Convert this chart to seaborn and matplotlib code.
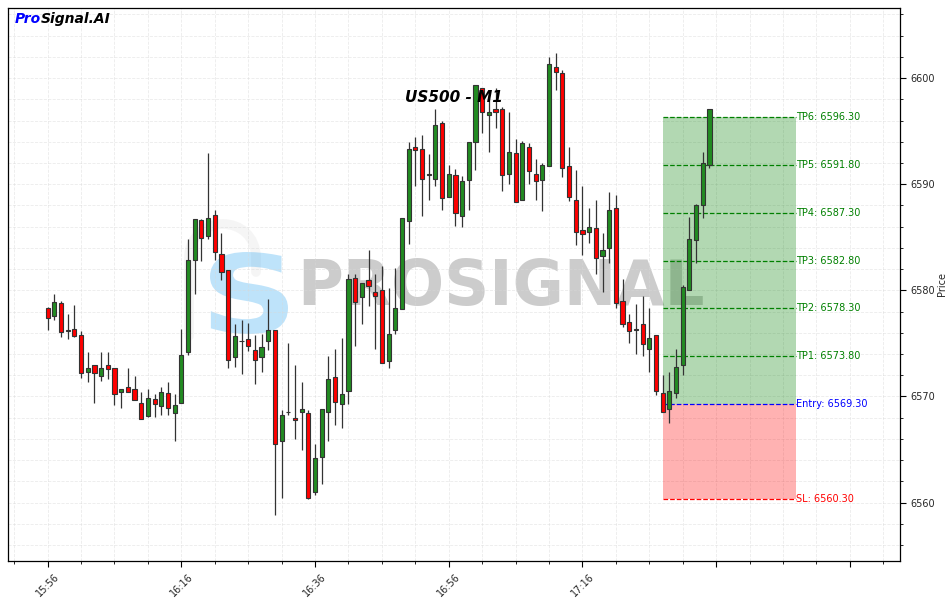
import numpy as np
import pandas as pd
import matplotlib
matplotlib.use("Agg")
import matplotlib.pyplot as plt
import seaborn as sns
from matplotlib.ticker import MultipleLocator, FuncFormatter
from matplotlib.textpath import TextPath
from matplotlib.patches import PathPatch
from matplotlib.path import Path
from matplotlib.font_manager import FontProperties
from matplotlib.transforms import Affine2D, IdentityTransform

# ---------------- data ----------------
symbol = "US500 - M1"
start_time = "15:56"
opens = [6578.3, 6577.6, 6578.8, 6576.3, 6576.4, 6575.8, 6572.3, 6573.0, 6571.9, 6573.0,
         6572.7, 6570.4, 6570.9, 6570.7, 6569.4, 6568.2, 6569.8, 6569.1, 6570.3, 6568.4,
         6569.4, 6574.2, 6582.9, 6586.6, 6585.1, 6587.1, 6583.4, 6581.9, 6573.7, 6575.2,
         6575.4, 6574.4, 6573.7, 6575.2, 6576.3, 6565.8, 6568.5, 6568.0, 6568.5, 6568.4,
         6561.0, 6564.3, 6568.5, 6571.8, 6569.3, 6570.5, 6581.2, 6579.4, 6581.0, 6579.8,
         6580.0, 6573.3, 6576.3, 6578.2, 6586.5, 6593.5, 6593.3, 6590.9, 6590.5, 6595.8,
         6588.8, 6590.9, 6587.0, 6590.4, 6594.0, 6599.1, 6596.5, 6597.1, 6597.1, 6591.0,
         6592.9, 6588.5, 6593.5, 6591.0, 6590.4, 6591.7, 6601.0, 6600.5, 6591.7, 6588.5,
         6585.7, 6585.5, 6585.9, 6583.2, 6584.0, 6587.8, 6579.0, 6577.0, 6576.3, 6576.8,
         6574.5, 6575.8, 6570.3, 6568.8, 6570.3, 6573.0, 6580.0, 6584.7, 6588.0, 6591.8]
highs = [6578.4, 6579.7, 6579.0, 6577.8, 6578.6, 6576.2, 6574.2, 6573.0, 6574.2, 6574.2,
         6572.7, 6570.7, 6572.7, 6571.9, 6570.4, 6570.7, 6570.2, 6570.9, 6571.4, 6570.2,
         6576.4, 6584.8, 6586.7, 6586.7, 6592.9, 6587.6, 6585.4, 6581.9, 6576.8, 6577.2,
         6576.9, 6575.8, 6575.9, 6579.2, 6576.3, 6568.7, 6575.0, 6573.0, 6571.4, 6568.7,
         6565.5, 6568.8, 6573.8, 6574.5, 6575.5, 6581.5, 6581.5, 6580.7, 6583.8, 6581.5,
         6582.3, 6580.2, 6582.1, 6586.8, 6594.0, 6594.4, 6594.6, 6592.8, 6597.1, 6596.0,
         6591.8, 6591.4, 6590.8, 6594.0, 6599.3, 6599.1, 6598.1, 6599.1, 6597.3, 6596.8,
         6594.3, 6594.1, 6593.9, 6592.4, 6592.0, 6602.0, 6602.4, 6600.8, 6593.5, 6591.3,
         6589.8, 6587.8, 6588.5, 6585.4, 6589.3, 6589.0, 6581.1, 6577.8, 6578.7, 6579.5,
         6578.3, 6575.8, 6572.0, 6572.3, 6574.5, 6580.5, 6586.9, 6588.1, 6593.0, 6597.1]
lows = [6576.3, 6577.2, 6575.6, 6575.4, 6575.6, 6571.7, 6571.4, 6569.4, 6571.5, 6571.6,
        6569.2, 6568.9, 6570.4, 6569.7, 6567.9, 6568.1, 6568.1, 6568.3, 6568.3, 6565.8,
        6569.4, 6573.9, 6579.7, 6582.8, 6584.8, 6582.9, 6581.0, 6572.7, 6572.8, 6572.1,
        6574.3, 6571.2, 6572.3, 6574.4, 6558.8, 6560.4, 6568.3, 6566.0, 6565.0, 6560.3,
        6560.7, 6561.8, 6565.8, 6567.3, 6567.0, 6569.3, 6574.8, 6576.8, 6578.5, 6574.5,
        6573.2, 6572.7, 6575.9, 6578.2, 6584.4, 6589.8, 6587.0, 6588.5, 6589.8, 6587.6,
        6588.8, 6586.1, 6586.0, 6587.6, 6591.3, 6594.8, 6593.0, 6595.3, 6589.4, 6590.0,
        6588.3, 6588.5, 6590.0, 6588.5, 6587.5, 6591.7, 6598.9, 6590.7, 6588.4, 6584.3,
        6583.3, 6584.5, 6581.5, 6579.8, 6582.6, 6578.3, 6576.5, 6575.0, 6574.0, 6573.8,
        6572.3, 6570.1, 6568.5, 6567.5, 6569.9, 6572.0, 6580.0, 6582.6, 6586.8, 6591.5]
closes = [6577.4, 6578.9, 6576.1, 6576.2, 6575.7, 6572.2, 6572.7, 6572.2, 6572.7, 6572.6,
          6570.2, 6570.7, 6570.4, 6569.7, 6567.9, 6569.9, 6569.3, 6570.4, 6568.9, 6569.2,
          6573.9, 6582.9, 6586.7, 6584.9, 6586.8, 6583.6, 6581.7, 6573.4, 6575.7, 6575.2,
          6574.8, 6573.4, 6574.7, 6576.3, 6565.5, 6568.3, 6568.5, 6567.8, 6568.8, 6560.4,
          6564.2, 6568.8, 6571.6, 6569.5, 6570.2, 6581.1, 6578.9, 6580.7, 6580.4, 6579.5,
          6573.2, 6575.9, 6578.3, 6586.8, 6593.3, 6593.2, 6590.5, 6590.9, 6595.6, 6588.7,
          6591.0, 6587.3, 6590.3, 6594.0, 6599.3, 6596.8, 6596.8, 6596.8, 6590.9, 6593.0,
          6588.3, 6593.9, 6591.2, 6590.3, 6591.8, 6601.3, 6600.6, 6591.5, 6588.8, 6585.5,
          6585.3, 6586.0, 6583.0, 6583.8, 6587.6, 6578.8, 6576.8, 6576.2, 6576.3, 6574.9,
          6575.5, 6570.5, 6568.5, 6570.5, 6572.8, 6580.3, 6584.8, 6588.0, 6592.0, 6597.1]

entry_price = 6569.30
sl_price = 6560.30
tp_names = ["TP1", "TP2", "TP3", "TP4", "TP5", "TP6"]
tp_prices = [6573.80, 6578.30, 6582.80, 6587.30, 6591.80, 6596.30]
signal_index = 92
zone_bars = 20

times = pd.date_range("2025-01-01 " + start_time, periods=len(opens), freq="min").strftime("%H:%M")
df = pd.DataFrame({"time": times, "open": opens, "high": highs, "low": lows, "close": closes})
df["x"] = np.arange(len(df))

# ---------------- style ----------------
sns.set_style("ticks")
plt.rcParams["font.family"] = ["DejaVu Sans"]

W, H = 953, 603
fig = plt.figure(figsize=(W / 100, H / 100), dpi=100)
ax = fig.add_axes([8 / W, 42 / H, 892 / W, 553 / H])

# ---- watermark: logo ----
# very faint grey loop behind the S
loop = Path([(189, H - 336), (189, H - 258), (189, H - 236), (207, H - 224), (223, H - 224),
             (240, H - 224), (256, H - 236), (256, H - 258), (256, H - 272)],
            [Path.MOVETO, Path.LINETO, Path.CURVE4, Path.CURVE4, Path.CURVE4,
             Path.CURVE4, Path.CURVE4, Path.CURVE4, Path.LINETO])
ax.add_patch(PathPatch(loop, transform=IdentityTransform(), fill=False,
                       edgecolor="#d0d0d0", alpha=0.2, linewidth=7, capstyle="round",
                       zorder=0.5, clip_on=False))
# blue S, stretched into its box
sp = TextPath((0, 0), "S", size=100, prop=FontProperties(family="DejaVu Sans", weight="bold"))
ext = sp.get_extents()
bx0, bx1, by0, by1 = 210, 288, H - 334, H - 252
tr = (Affine2D().translate(-ext.x0, -ext.y0)
      .scale((bx1 - bx0) / ext.width, (by1 - by0) / ext.height)
      .translate(bx0, by0))
ax.add_patch(PathPatch(sp, transform=tr, facecolor="#29a3f0", edgecolor="none",
                       alpha=0.3, zorder=0.5, clip_on=False))
ax.text(0.553, 0.494, "PROSIGNAL", transform=ax.transAxes, ha="center", va="center",
        fontsize=45, fontweight="bold", color="#808080", alpha=0.4, zorder=0.5)

# ---- trade zones ----
x0 = signal_index
x1 = signal_index + zone_bars
ax.fill_between([x0, x1], entry_price, tp_prices[-1], color="green", alpha=0.3, lw=0, zorder=1)
ax.fill_between([x0, x1], sl_price, entry_price, color="red", alpha=0.3, lw=0, zorder=1)
for name, p in zip(tp_names, tp_prices):
    ax.hlines(p, x0, x1, colors="green", linestyles="--", linewidth=0.9, zorder=2)
    ax.text(x1, p, f"{name}: {p:.2f}", color="green", fontsize=7, va="center", ha="left")
ax.hlines(entry_price, x0, x1, colors="blue", linestyles="--", linewidth=0.9, zorder=2)
ax.text(x1, entry_price, f"Entry: {entry_price:.2f}", color="blue", fontsize=7, va="center", ha="left")
ax.hlines(sl_price, x0, x1, colors="red", linestyles="--", linewidth=0.9, zorder=2)
ax.text(x1, sl_price, f"SL: {sl_price:.2f}", color="red", fontsize=7, va="center", ha="left")

# ---- candles ----
up = df["close"] >= df["open"]
colors = np.where(up, "forestgreen", "red")
bottom = np.minimum(df["open"], df["close"])
height = np.maximum((df["close"] - df["open"]).abs(), 0.05)
ax.vlines(df["x"], df["low"], df["high"], color="#333333", linewidth=0.9, zorder=3)
ax.bar(df["x"], height, bottom=bottom, width=0.62, color=colors,
       edgecolor="#333333", linewidth=0.8, zorder=4)

# ---- axes ----
ax.set_xlim(-5.93, 127.5)
ax.set_ylim(6554.5, 6606.6)
ax.xaxis.set_major_locator(MultipleLocator(20))
ax.xaxis.set_minor_locator(MultipleLocator(5))
ax.yaxis.set_major_locator(MultipleLocator(10))
ax.yaxis.set_minor_locator(MultipleLocator(2))
n = len(df)
ax.xaxis.set_major_formatter(FuncFormatter(
    lambda v, pos: df["time"].iloc[int(round(v))] if 0 <= round(v) < n else ""))
ax.yaxis.tick_right()
ax.yaxis.set_label_position("right")
ax.set_ylabel("Price", fontsize=7, labelpad=1)
ax.tick_params(axis="both", which="major", labelsize=7, length=4, color="black")
ax.tick_params(axis="both", which="minor", length=2, color="black")
plt.setp(ax.get_xticklabels(), rotation=45)
for s in ax.spines.values():
    s.set_visible(True)
    s.set_color("black")
    s.set_linewidth(0.9)
ax.grid(True, which="both", linestyle="--", color="#d8d8d8", alpha=0.5, linewidth=0.6)
ax.set_axisbelow(True)

ax.text(0.5, 0.839, symbol, transform=ax.transAxes, ha="center", va="center",
        fontsize=11, fontweight="bold", fontstyle="italic", color="black", zorder=6)

t1 = ax.text(0.008, 0.980, "Pro", transform=ax.transAxes, ha="left", va="center",
             fontsize=10, fontweight="bold", fontstyle="italic", color="blue", zorder=6)
ax.annotate("Signal.AI", xy=(1, 0.5), xycoords=t1, ha="left", va="center",
            fontsize=10, fontweight="bold", fontstyle="italic", color="black", zorder=6)

fig.savefig("out.png", dpi=100)
